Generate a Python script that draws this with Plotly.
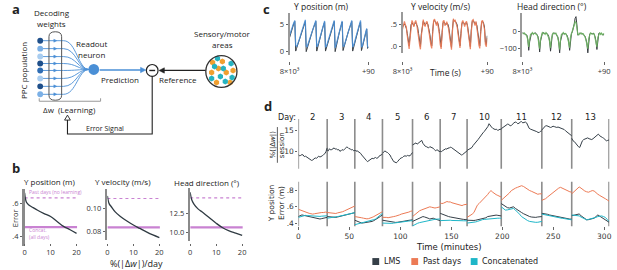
import plotly.graph_objects as go

W, H = 617, 270

# ===================== Panel b data =====================
b_titles = ["Y position (m)", "Y velocity (m/s)", "Head direction (°)"]
b_dw_pct = [0, 0.3, 0.7, 1.5, 3, 5, 7.5, 10, 12.5, 15, 17.5, 20]
b_err_ypos = [0.665, 0.63, 0.607, 0.592, 0.577, 0.558, 0.538, 0.52, 0.49, 0.46, 0.44, 0.418]
b_err_yvel = [0.111, 0.107, 0.104, 0.1015, 0.097, 0.093, 0.089, 0.0855, 0.0825, 0.0795, 0.0768, 0.0745]
b_err_head = [15.3, 14.7, 14.2, 13.7, 13.1, 12.6, 11.9, 11.2, 10.6, 10.2, 9.9, 9.6]
b_err_pastdays = [0.634, 0.1087, 14.57]
b_err_concat = [0.456, 0.0835, 10.66]
b_ytickvals = [[0.4, 0.6], [0.08, 0.10], [10.0, 12.5]]
b_yticktext = [[".4", ".6"], ["0.08", "0.10"], ["10.0", "12.5"]]
b_xtickvals = [0, 10, 20]

# ===================== Panel c data =====================
c_titles = ["Y position (m)", "Y velocity (m/s)", "Head direction (°)"]
c_time_s = list(range(91))
c_xtickvals = [0, 90]
c_xticktext = ["8×10³", "+90"]
c_ypos_true = [2.6, 3.2, 3.8, 4.4, 4.9, 5.3, 5.6, 0.1,
               0.6, 1.1, 1.6, 2.1, 2.6, 3.1, 3.6, 4.1, 4.6, 5.1, 5.6, 0.0,
               0.6, 1.2, 1.7, 2.2, 2.8, 3.3, 3.8, 4.3, 4.8, 5.2, 5.6, 0.1,
               0.8, 1.4, 2.0, 2.7, 3.3, 3.9, 4.5, 5.0, 5.5, 0.1,
               0.7, 1.3, 1.9, 2.5, 3.0, 3.6, 4.1, 4.6, 5.1, 5.6, 0.0,
               0.9, 1.6, 2.3, 3.0, 3.7, 4.4, 5.0, 5.5, 0.2,
               0.7, 1.3, 1.9, 2.5, 3.1, 3.7, 4.2, 4.7, 5.2, 5.6, 0.1,
               0.8, 1.4, 2.1, 2.8, 3.4, 4.0, 4.6, 5.1, 5.5, 0.2,
               0.8, 1.5, 2.2, 2.9, 3.6, 4.2, 0.6, 0.9]
c_ypos_pred = [3.0, 3.4, 3.9, 4.5, 5.0, 5.5, 5.8, 1.2,
               0.9, 1.3, 1.7, 2.3, 2.7, 3.3, 3.9, 4.3, 4.9, 5.4, 5.9, 1.0,
               0.9, 1.4, 1.9, 2.4, 2.9, 3.5, 3.9, 4.4, 5.0, 5.4, 5.8, 0.9,
               1.1, 1.6, 2.2, 2.8, 3.5, 4.0, 4.7, 5.2, 5.7, 0.8,
               1.0, 1.5, 2.1, 2.6, 3.2, 3.7, 4.3, 4.8, 5.3, 5.8, 0.7,
               1.2, 1.8, 2.5, 3.2, 3.9, 4.5, 5.2, 5.7, 1.0,
               1.0, 1.5, 2.1, 2.7, 3.3, 3.8, 4.4, 4.9, 5.4, 5.8, 0.8,
               1.1, 1.6, 2.3, 2.9, 3.6, 4.2, 4.8, 5.3, 5.8, 0.9,
               1.0, 1.7, 2.4, 3.0, 3.7, 4.3, 1.0, 0.7]
c_yvel_true = [0.45, 0.50, 0.52, 0.48, 0.42, 0.30, 0.10, 0.02,
               0.25, 0.50, 0.55, 0.52, 0.48, 0.53, 0.55, 0.50, 0.45, 0.30, 0.12, 0.00,
               0.30, 0.52, 0.58, 0.54, 0.50, 0.52, 0.55, 0.50, 0.42, 0.28, 0.10, 0.02,
               0.35, 0.58, 0.60, 0.55, 0.52, 0.56, 0.50, 0.35, 0.12, 0.00,
               0.32, 0.55, 0.57, 0.52, 0.50, 0.54, 0.52, 0.45, 0.30, 0.10, -0.02,
               0.40, 0.62, 0.60, 0.58, 0.55, 0.50, 0.35, 0.10, 0.02,
               0.30, 0.52, 0.56, 0.55, 0.50, 0.52, 0.55, 0.48, 0.30, 0.10, 0.00,
               0.38, 0.58, 0.60, 0.55, 0.52, 0.55, 0.48, 0.32, 0.10, 0.02,
               0.35, 0.55, 0.58, 0.54, 0.45, 0.10, 0.05, 0.25]
c_yvel_pred = [0.40, 0.55, 0.58, 0.50, 0.45, 0.25, 0.05, -0.05,
               0.20, 0.45, 0.60, 0.55, 0.45, 0.55, 0.60, 0.52, 0.40, 0.22, 0.05, -0.06,
               0.25, 0.55, 0.62, 0.50, 0.46, 0.55, 0.58, 0.48, 0.38, 0.20, 0.04, -0.04,
               0.30, 0.60, 0.63, 0.52, 0.48, 0.58, 0.46, 0.30, 0.05, -0.05,
               0.28, 0.58, 0.60, 0.48, 0.52, 0.57, 0.48, 0.40, 0.22, 0.04, -0.07,
               0.35, 0.64, 0.58, 0.60, 0.52, 0.45, 0.28, 0.05, -0.03,
               0.25, 0.55, 0.60, 0.52, 0.46, 0.55, 0.58, 0.44, 0.25, 0.03, -0.06,
               0.32, 0.60, 0.62, 0.52, 0.48, 0.58, 0.44, 0.26, 0.04, -0.04,
               0.30, 0.58, 0.60, 0.50, 0.40, 0.05, 0.00, 0.20]
c_head_true = [-5, -8, -10, -12, -15, -20, -45, -110,
               -60, -20, -10, -8, -12, -10, -6, -9, -14, -25, -50, -120,
               -55, -18, -8, -5, -10, -12, -7, -9, -15, -28, -55, -115,
               -50, -15, -8, -10, -6, -12, -18, -30, -60, -125,
               -55, -20, -10, -8, -12, -9, -14, -20, -35, -60, -110,
               -40, -10, 0, 20, 45, 80, 90, 40, -20,
               -15, -10, -8, -12, -10, -15, -20, -28, -45, -70, -125,
               -50, -15, -8, -10, -12, -8, -15, -30, -55, -105,
               -40, -10, -8, -12, -10, -15, -20, -12]
c_head_pred = [-8, -12, -6, -15, -18, -25, -50, -90,
               -45, -15, -12, -5, -15, -8, -10, -12, -18, -30, -55, -100,
               -45, -20, -5, -10, -8, -15, -5, -12, -20, -35, -60, -95,
               -40, -18, -5, -12, -10, -8, -22, -35, -65, -105,
               -45, -15, -12, -5, -15, -10, -12, -25, -40, -65, -95,
               -30, -8, 5, 25, 40, 60, 55, 25, -15,
               -18, -8, -12, -8, -14, -12, -22, -30, -50, -75, -100,
               -40, -18, -5, -12, -10, -12, -12, -35, -60, -90,
               -35, -12, -5, -15, -8, -18, -15, -10]
c_yrange = [[-0.55, 7.2], [-0.136, 0.795], [-147, 112]]
c_ytickvals = [[0, 5], [0, 0.5], [-100, 0]]
c_yticktext = [["0", "5"], [".0", ".5"], ["−100", "0"]]

# ===================== Panel d data =====================
d_days = [2, 3, 4, 5, 6, 7, 10, 11, 12, 13]
d_bounds_min = [0, 28.3, 55.4, 82.5, 112, 139.1, 165.5, 199, 238.8, 268.1, 304.7]
d_xtickvals = [0, 50, 100, 150, 200, 250, 300]
d_dw_by_day = [
    [9.3, 9.0, 9.1, 9.3, 9.2, 8.8, 8.9, 8.7, 8.6, 8.3, 8.2, 7.9, 8.0, 8.4, 8.5, 8.4, 8.6, 8.9, 8.7, 8.8, 9.0, 9.3, 9.5, 10.0, 10.9],
    [10.4, 10.2, 10.7, 10.4, 10.5, 10.8, 10.9, 10.6, 10.7, 10.4, 10.5, 10.1, 10.2, 10.5, 10.3, 10.6, 10.8, 11.1, 11.0, 10.7, 10.7, 10.4, 10.5, 10.2, 10.3],
    [10.4, 10.1, 10.2, 10.0, 9.9, 9.6, 9.2, 8.8, 8.4, 8.0, 7.9, 7.6, 7.8, 8.0, 8.1, 8.4, 8.3, 8.5, 8.6, 8.4, 8.5, 8.9, 9.1, 9.3, 9.4],
    [9.6, 10.0, 10.2, 9.9, 9.8, 9.5, 9.2, 8.6, 8.0, 7.6, 7.5, 7.3, 7.6, 8.0, 8.3, 8.5, 8.6, 8.9, 9.0, 8.9, 9.1, 9.0, 9.0, 9.4, 9.8],
    [11.6, 11.8, 11.9, 12.1, 11.8, 12.0, 12.2, 12.5, 12.7, 12.0, 11.5, 11.3, 11.2, 11.0, 10.9, 11.2, 11.1, 10.9, 10.8, 10.5, 10.2, 10.4, 10.4, 10.0, 10.1],
    [10.1, 10.0, 10.2, 10.4, 10.4, 10.7, 10.6, 10.9, 10.8, 11.1, 11.0, 10.8, 10.7, 10.5, 10.4, 10.1, 9.9, 9.6, 9.5, 9.2, 9.3, 9.5, 9.7, 10.0, 10.2],
    [10.3, 10.5, 10.6, 10.9, 11.0, 11.5, 11.8, 12.3, 12.6, 12.9, 13.3, 13.8, 14.2, 14.5, 14.8, 15.2, 15.4, 16.0, 16.7, 16.2, 15.9, 15.6, 15.5, 15.3, 15.4, 15.1, 15.2, 15.4, 15.3],
    [15.5, 15.7, 15.8, 16.1, 16.2, 16.6, 16.5, 16.2, 16.3, 16.7, 16.9, 17.1, 17.0, 16.7, 16.8, 17.1, 17.2, 16.9, 17.0, 17.1, 16.9, 16.2, 15.6, 15.4, 15.3, 15.1, 15.0, 14.9, 14.8, 14.6, 14.6, 14.9, 15.0],
    [15.2, 15.6, 15.9, 16.2, 16.2, 16.0, 16.0, 15.8, 15.9, 16.1, 16.0, 15.8, 15.8, 15.9, 15.8, 15.6, 15.6, 15.4, 15.3, 15.0, 14.8, 14.5, 14.2, 14.0, 13.8],
    [13.2, 12.6, 12.4, 11.9, 11.6, 11.2, 11.0, 11.8, 12.6, 12.9, 13.0, 13.2, 13.3, 13.1, 13.0, 12.9, 13.1, 13.4, 13.6, 13.9, 14.2, 13.8, 13.5, 13.4, 13.2, 12.9, 12.6, 12.7, 12.8],
]
d_past_by_day = [
    [0.57, 0.56, 0.55, 0.545, 0.535, 0.53, 0.52, 0.515, 0.51, 0.515, 0.52, 0.518, 0.525, 0.53, 0.53, 0.535, 0.53],
    [0.53, 0.528, 0.525, 0.52, 0.52, 0.518, 0.525, 0.53, 0.53, 0.54, 0.55, 0.56, 0.57, 0.58, 0.59, 0.60, 0.61],
    [0.48, 0.478, 0.475, 0.47, 0.465, 0.46, 0.455, 0.452, 0.455, 0.46, 0.47, 0.48, 0.49, 0.5, 0.51, 0.525, 0.54],
    [0.47, 0.472, 0.47, 0.466, 0.468, 0.475, 0.48, 0.485, 0.49, 0.5, 0.51, 0.515, 0.52, 0.53, 0.535, 0.545, 0.55],
    [0.48, 0.5, 0.52, 0.535, 0.55, 0.56, 0.57, 0.58, 0.59, 0.60, 0.60, 0.595, 0.59, 0.585, 0.59, 0.6, 0.60],
    [0.65, 0.64, 0.645, 0.655, 0.665, 0.66, 0.66, 0.65, 0.645, 0.635, 0.63, 0.625, 0.62, 0.615, 0.625, 0.63, 0.632],
    [0.47, 0.48, 0.49, 0.51, 0.53, 0.57, 0.62, 0.64, 0.66, 0.68, 0.70, 0.73, 0.75, 0.78, 0.80, 0.78, 0.76, 0.75, 0.74, 0.73, 0.72],
    [0.68, 0.70, 0.72, 0.75, 0.77, 0.80, 0.82, 0.83, 0.84, 0.85, 0.86, 0.85, 0.83, 0.81, 0.80, 0.79, 0.78, 0.77, 0.755, 0.76, 0.76],
    [0.68, 0.69, 0.70, 0.72, 0.74, 0.76, 0.78, 0.79, 0.81, 0.83, 0.84, 0.83, 0.81, 0.80, 0.79, 0.785, 0.78],
    [0.76, 0.78, 0.80, 0.83, 0.845, 0.83, 0.81, 0.795, 0.785, 0.78, 0.79, 0.80, 0.795, 0.77, 0.755, 0.74, 0.73, 0.715, 0.70, 0.685, 0.67],
]
d_lms_by_day = [
    [0.48, 0.49, 0.50, 0.495, 0.49, 0.485, 0.48, 0.47, 0.465, 0.46, 0.455, 0.45, 0.45, 0.455, 0.46, 0.465, 0.47],
    [0.48, 0.478, 0.475, 0.47, 0.468, 0.47, 0.475, 0.48, 0.488, 0.495, 0.50, 0.505, 0.512, 0.515, 0.52, 0.525, 0.528],
    [0.435, 0.425, 0.415, 0.405, 0.40, 0.402, 0.405, 0.408, 0.41, 0.415, 0.42, 0.43, 0.44, 0.455, 0.47, 0.485, 0.50],
    [0.435, 0.43, 0.425, 0.422, 0.42, 0.415, 0.41, 0.408, 0.41, 0.412, 0.416, 0.42, 0.425, 0.43, 0.435, 0.438, 0.44],
    [0.42, 0.43, 0.44, 0.455, 0.47, 0.478, 0.48, 0.475, 0.47, 0.46, 0.45, 0.455, 0.46, 0.45, 0.44, 0.435, 0.43],
    [0.52, 0.51, 0.50, 0.49, 0.485, 0.48, 0.475, 0.47, 0.465, 0.46, 0.455, 0.452, 0.45, 0.448, 0.445, 0.442, 0.44],
    [0.435, 0.432, 0.43, 0.43, 0.432, 0.435, 0.44, 0.445, 0.45, 0.452, 0.455, 0.465, 0.48, 0.485, 0.49, 0.495, 0.50, 0.498, 0.495, 0.49, 0.488],
    [0.64, 0.62, 0.60, 0.59, 0.585, 0.59, 0.60, 0.58, 0.56, 0.545, 0.53, 0.515, 0.50, 0.49, 0.48, 0.474, 0.468, 0.47, 0.475, 0.478, 0.48],
    [0.52, 0.518, 0.515, 0.508, 0.50, 0.495, 0.49, 0.485, 0.48, 0.472, 0.465, 0.462, 0.46, 0.455, 0.45, 0.449, 0.448],
    [0.49, 0.495, 0.50, 0.506, 0.512, 0.49, 0.47, 0.455, 0.44, 0.442, 0.445, 0.452, 0.46, 0.48, 0.50, 0.485, 0.47, 0.455, 0.44, 0.425, 0.41],
]
d_concat_by_day = [
    [0.47, 0.478, 0.485, 0.49, 0.495, 0.492, 0.49, 0.489, 0.488, 0.484, 0.48, 0.481, 0.482, 0.485, 0.488, 0.489, 0.49],
    [0.46, 0.462, 0.465, 0.468, 0.472, 0.476, 0.48, 0.484, 0.488, 0.494, 0.50, 0.506, 0.512, 0.516, 0.52, 0.524, 0.528],
    [0.38, 0.385, 0.39, 0.395, 0.40, 0.405, 0.41, 0.415, 0.42, 0.428, 0.435, 0.442, 0.45, 0.465, 0.48, 0.50, 0.52],
    [0.40, 0.398, 0.395, 0.393, 0.392, 0.396, 0.40, 0.402, 0.405, 0.408, 0.41, 0.414, 0.418, 0.422, 0.425, 0.428, 0.43],
    [0.365, 0.378, 0.39, 0.398, 0.405, 0.41, 0.415, 0.42, 0.425, 0.432, 0.44, 0.442, 0.445, 0.446, 0.448, 0.449, 0.45],
    [0.43, 0.432, 0.435, 0.438, 0.44, 0.438, 0.435, 0.432, 0.43, 0.429, 0.428, 0.429, 0.43, 0.429, 0.428, 0.428, 0.428],
    [0.40, 0.401, 0.402, 0.405, 0.408, 0.414, 0.42, 0.43, 0.44, 0.442, 0.445, 0.448, 0.45, 0.452, 0.455, 0.458, 0.46, 0.46, 0.46, 0.46, 0.46],
    [0.60, 0.58, 0.56, 0.562, 0.565, 0.572, 0.58, 0.56, 0.54, 0.51, 0.48, 0.46, 0.44, 0.43, 0.42, 0.414, 0.408, 0.409, 0.41, 0.415, 0.42],
    [0.51, 0.505, 0.50, 0.494, 0.488, 0.482, 0.475, 0.472, 0.468, 0.464, 0.46, 0.458, 0.455, 0.452, 0.45, 0.445, 0.44],
    [0.50, 0.498, 0.495, 0.49, 0.488, 0.474, 0.46, 0.45, 0.44, 0.445, 0.45, 0.455, 0.46, 0.47, 0.48, 0.484, 0.488, 0.48, 0.47, 0.445, 0.42],
]
d_legend = ["LMS", "Past days", "Concatenated"]

# ===================== styling =====================
ABC_FONT = "Open Sans"
D_FONT = "DejaVu Sans"
DARK = "#353f48"
BLUE = "#4a8fd6"
ORANGE = "#ec7a55"
GREEN = "#6db562"
TEAL = "#1fb6c8"
PURPLE = "#c982d2"
GREY_AX = "#8c8c8c"


def dx(p0, p1):
    return [p0 / W, p1 / W]


def dy(top, bottom):
    return [1 - bottom / H, 1 - top / H]


def day_series(per_day):
    xs, ys = [], []
    for i, vals in enumerate(per_day):
        a, b = d_bounds_min[i], d_bounds_min[i + 1]
        n = len(vals)
        for k, v in enumerate(vals):
            xs.append(a + (b - a) * k / (n - 1))
            ys.append(v)
        xs.append(None)
        ys.append(None)
    return xs, ys


fig = go.Figure()
layout = dict(width=W, height=H, margin=dict(l=0, r=0, t=0, b=0),
              paper_bgcolor="white", plot_bgcolor="rgba(0,0,0,0)", showlegend=False,
              font=dict(family=ABC_FONT, size=8, color="#222"))
ann = []
shapes = []


def ax_name(i, kind):
    return f"{kind}axis" if i == 1 else f"{kind}axis{i}"


def T(text, x, y, size=8, color="#222", xanchor="center", yanchor="middle", angle=0,
      family=ABC_FONT, weight="normal"):
    ann.append(dict(text=text, x=x, y=y, xref="x9", yref="y9", showarrow=False,
                    font=dict(size=size, color=color, family=family, weight=weight),
                    xanchor=xanchor, yanchor=yanchor, textangle=angle))


def S(**kw):
    d = dict(xref="x9", yref="y9")
    d.update(kw)
    shapes.append(d)


# ---------------- panel b ----------------
b_curves = [b_err_ypos, b_err_yvel, b_err_head]
b_xdom = [(15, 69.4), (100, 154.4), (185, 239.4)]
b_ydom = [(190, 248), (190, 242), (189, 243)]
b_yrange = [[0.34, 0.69], [0.0722, 0.1174], [8.82, 15.92]]
b_title_pos = [(41.5, 183), (116, 183), (202, 184)]
for i in range(3):
    n = i + 1
    xa, ya = f"x{n}" if n > 1 else "x", f"y{n}" if n > 1 else "y"
    fig.add_trace(go.Scatter(x=[0, 20.2], y=[b_err_pastdays[i]] * 2, mode="lines",
                             line=dict(color=PURPLE, width=1.2, dash="dot"), xaxis=xa, yaxis=ya))
    fig.add_trace(go.Scatter(x=[0, 20.2], y=[b_err_concat[i]] * 2, mode="lines",
                             line=dict(color=PURPLE, width=2.2), xaxis=xa, yaxis=ya))
    fig.add_trace(go.Scatter(x=b_dw_pct, y=b_curves[i], mode="lines", line_shape="spline",
                             line=dict(color="#2f3a42", width=1.3), xaxis=xa, yaxis=ya))
    layout[ax_name(n, "x")] = dict(domain=dx(*b_xdom[i]), range=[0, 20.4], anchor="free",
                                   position=1 - 245 / H, showline=False, showgrid=False, zeroline=False,
                                   ticks="outside", ticklen=2, tickcolor="#666", tickvals=b_xtickvals,
                                   tickfont=dict(size=7.5, color="#333"), fixedrange=True)
    layout[ax_name(n, "y")] = dict(domain=dy(*b_ydom[i]), range=b_yrange[i], anchor=xa,
                                   showline=True, linecolor="#8a8a8a", linewidth=2.5, showgrid=False,
                                   zeroline=False, ticks="outside", ticklen=2, tickcolor="#666",
                                   tickvals=b_ytickvals[i], ticktext=b_yticktext[i],
                                   tickfont=dict(size=7.5, color="#333"), fixedrange=True)
    T(b_titles[i], b_title_pos[i][0], b_title_pos[i][1], size=8)

# ---------------- panel c ----------------
c_series = [(c_ypos_true, c_ypos_pred, BLUE), (c_yvel_true, c_yvel_pred, ORANGE),
            (c_head_true, c_head_pred, GREEN)]
c_xdom = [(287, 368), (403, 490), (526, 610)]
c_ydom = [(13, 55), (12, 53), (13, 57)]
c_title_x = [320, 442, 556]
for i in range(3):
    n = i + 4
    xa, ya = f"x{n}", f"y{n}"
    tr, pr, col = c_series[i]
    fig.add_trace(go.Scatter(x=c_time_s, y=tr, mode="lines", line=dict(color="#3a3f44", width=1),
                             xaxis=xa, yaxis=ya))
    fig.add_trace(go.Scatter(x=c_time_s, y=pr, mode="lines", line=dict(color=col, width=1.2),
                             opacity=0.9, xaxis=xa, yaxis=ya))
    layout[ax_name(n, "x")] = dict(domain=dx(*c_xdom[i]), range=[0, 90], anchor="free",
                                   position=1 - 61 / H, showline=False, showgrid=False, zeroline=False,
                                   ticks="outside", ticklen=3, tickcolor="#666", tickvals=c_xtickvals,
                                   ticktext=c_xticktext, tickfont=dict(size=7.5, color="#333"),
                                   fixedrange=True)
    layout[ax_name(n, "y")] = dict(domain=dy(*c_ydom[i]), range=c_yrange[i], anchor=xa,
                                   showline=True, linecolor="#9a9a9a", linewidth=2, showgrid=False,
                                   zeroline=False, ticks="outside", ticklen=2, tickcolor="#666",
                                   tickvals=c_ytickvals[i], ticktext=c_yticktext[i],
                                   tickfont=dict(size=7.5, color="#333"), fixedrange=True)
    T(c_titles[i], c_title_x[i], 7, size=8.5)
T("Time (s)", 447, 73, size=8.5)

# ---------------- panel d ----------------
xs, ys = day_series(d_dw_by_day)
fig.add_trace(go.Scatter(x=xs, y=ys, mode="lines", line=dict(color=DARK, width=1), xaxis="x7", yaxis="y7"))
for data, col in [(d_past_by_day, ORANGE), (d_lms_by_day, DARK), (d_concat_by_day, TEAL)]:
    xs, ys = day_series(data)
    fig.add_trace(go.Scatter(x=xs, y=ys, mode="lines", line=dict(color=col, width=1),
                             xaxis="x8", yaxis="y8"))
d_xd = dx(296, 615.3)
layout["xaxis7"] = dict(domain=d_xd, range=[0, 305], anchor="y7", visible=False, fixedrange=True)
layout["yaxis7"] = dict(domain=dy(120, 170), range=[5.9, 17.8], anchor="x7", showline=False,
                        showgrid=False, zeroline=False, ticks="outside", ticklen=2, tickcolor="#666",
                        tickvals=[10, 15], tickfont=dict(size=7.5, family=D_FONT, color="#333"),
                        fixedrange=True)
layout["xaxis8"] = dict(domain=d_xd, range=[0, 305], anchor="y8", showline=False, showgrid=False,
                        zeroline=False, ticks="outside", ticklen=3, tickcolor="#666",
                        tickvals=d_xtickvals, tickfont=dict(size=7.5, family=D_FONT, color="#333"),
                        fixedrange=True)
layout["yaxis8"] = dict(domain=dy(183, 228), range=[0.36, 0.91], anchor="x8", showline=False,
                        showgrid=False, zeroline=False, ticks="outside", ticklen=2, tickcolor="#666",
                        tickvals=[0.4, 0.6, 0.8], ticktext=[".4", ".6", ".8"],
                        tickfont=dict(size=7.5, family=D_FONT, color="#333"), fixedrange=True)
for b in d_bounds_min:
    for xa, ya in [("x7", "y7"), ("x8", "y8")]:
        shapes.append(dict(type="line", xref=xa, yref=f"{ya} domain", x0=b, x1=b, y0=0, y1=1,
                           line=dict(color=GREY_AX, width=1.6), layer="below"))
for i, day in enumerate(d_days):
    mid = (d_bounds_min[i] + d_bounds_min[i + 1]) / 2
    ann.append(dict(text=str(day), x=mid, y=1 - 118 / H, xref="x7", yref="paper", showarrow=False,
                    font=dict(size=8.5, family=D_FONT, color="#222"), xanchor="center", yanchor="middle"))
T("Day:", 284, 118, size=8, family=D_FONT)
T("%(|Δ<i>w</i>|)", 269.5, 146, size=7, family=D_FONT, angle=-90)
T("session", 279.5, 146, size=7, family=D_FONT, angle=-90)
S(type="line", x0=274.5, x1=274.5, y0=128, y1=164, line=dict(color="#333", width=0.8))
T("Y position<br>Error (m)", 274, 205, size=7.5, family=D_FONT, angle=-90)
T("Time (minutes)", 451, 249, size=8.5, family=D_FONT)
leg_x = [372, 412, 473]
leg_cols = [DARK, ORANGE, TEAL]
for lx, lab, col in zip(leg_x, d_legend, leg_cols):
    S(type="rect", x0=lx, x1=lx + 7, y0=260, y1=267, fillcolor=col, line=dict(width=0))
    T(lab, lx + 10, 263.5, size=8, family=D_FONT, xanchor="left")

# ---------------- panel a (schematic) ----------------
NEURON_Y = [41, 49, 57, 64, 71, 79, 87, 95]
NEURON_C = ["#1f4f8a", "#7bb0e6", "#a9cdf0", "#1f4f8a", "#2f6db3", "#a9cdf0", "#1f4f8a", "#7bb0e6"]
RO = (86, 70)
for y, c in zip(NEURON_Y, NEURON_C):
    S(type="path", path=f"M 33,{y} L 55,{y} C 68,{y} 70,{RO[1]} 81,{RO[1]}",
      line=dict(color=BLUE, width=0.9))
    S(type="path", path=f"M 45,{y-1.5} L 48,{y} L 45,{y+1.5} Z", fillcolor=BLUE,
      line=dict(color=BLUE, width=0.5))
    S(type="circle", x0=28, x1=34, y0=y - 3, y1=y + 3, fillcolor=c, line=dict(width=0))
S(type="path", path="M 40,37 Q 40,32 46.5,32 Q 53,32 53,37 L 53,96 Q 53,101 46.5,101 Q 40,101 40,96 Z",
  line=dict(color="#555", width=1))
S(type="circle", x0=80.5, x1=91.5, y0=64.5, y1=75.5, fillcolor=BLUE, line=dict(width=0))
# prediction arrow
S(type="line", x0=92, x1=135, y0=70.5, y1=70.5, line=dict(color=BLUE, width=1.3))
S(type="path", path="M 134,67.8 L 139.5,70.5 L 134,73.2 Z", fillcolor=BLUE, line=dict(color=BLUE, width=0.5))
# reference arrow
S(type="line", x0=201, x1=157, y0=71, y1=71, line=dict(color="#222", width=1.2))
S(type="path", path="M 158.5,68.3 L 153,71 L 158.5,73.7 Z", fillcolor="#222", line=dict(color="#222", width=0.5))
# comparator
S(type="circle", x0=140, x1=152, y0=65, y1=77, fillcolor="white", line=dict(color="#222", width=1.2))
S(type="line", x0=143, x1=149, y0=71, y1=71, line=dict(color="#222", width=1.4))
# error signal loop
S(type="path", path="M 146,77 L 146,135 L 59,135 L 59,121", line=dict(color="#222", width=1.1))
S(type="path", path="M 56,121 L 62,121 L 59,116 Z", fillcolor="white", line=dict(color="#222", width=0.9))
# learning bracket
S(type="path", path="M 30,99 L 30,102 L 93,102 L 93,99", line=dict(color="#999", width=1))
# sensory/motor areas
S(type="circle", x0=201, x1=233, y0=56, y1=88, fillcolor="rgba(0,0,0,0)",
  line=dict(color="#333", width=1.3))
hex_orange = [(208, 63), (218, 62), (207, 73), (222, 73), (229, 71), (212, 83), (226, 83), (214, 69)]
hex_teal = [(213, 59), (227, 64), (210, 67), (219, 69), (216, 77), (221, 82), (228, 78), (207, 79)]
fig.add_trace(go.Scatter(x=[p[0] for p in hex_orange], y=[p[1] for p in hex_orange], mode="markers",
                         marker=dict(symbol="hexagon", size=6, color="#f0a030"), xaxis="x9", yaxis="y9"))
fig.add_trace(go.Scatter(x=[p[0] for p in hex_teal], y=[p[1] for p in hex_teal], mode="markers",
                         marker=dict(symbol="hexagon", size=6, color="#26b3c0"), xaxis="x9", yaxis="y9"))
layout["xaxis9"] = dict(domain=[0, 1], range=[0, W], visible=False, fixedrange=True, anchor="y9")
layout["yaxis9"] = dict(domain=[0, 1], range=[H, 0], visible=False, fixedrange=True, anchor="x9")

T("Decoding", 43, 13, size=8)
T("weights", 43, 24, size=8)
T("PPC population", 14, 71, size=8, angle=-90)
T("Readout", 84, 44, size=8)
T("neuron", 84, 55, size=8)
T("Prediction", 113, 80, size=8)
T("Reference", 172, 80, size=8)
T("Sensory/motor", 218, 34, size=8)
T("areas", 218, 45, size=8)
T("Δw  (Learning)", 61, 110, size=8)
T("Error Signal", 98, 129, size=7)

# panel b extra text
T("Error", 6, 220, size=7.5, angle=-90)
T("Past days (no learning)", 17, 193, size=5, color=PURPLE, xanchor="left")
T("Concat.", 17, 232, size=5, color=PURPLE, xanchor="left")
T("(all days)", 17, 239, size=5, color=PURPLE, xanchor="left")
T("%(|Δ<i>w</i>|)/day", 130, 265, size=9)

# panel letters
T("a", 6, 9, size=13, weight="bold")
T("b", 6, 169, size=13, weight="bold")
T("c", 263, 9, size=13, weight="bold")
T("d", 265, 107, size=13, weight="bold")

layout["annotations"] = ann
layout["shapes"] = shapes
fig.update_layout(**layout)
fig.write_html("out.html", config={"displayModeBar": False, "staticPlot": True})

# remove the browser's default page margin so the figure sits at the window's top-left corner
with open("out.html", "r", encoding="utf-8") as f:
    html = f.read()
html = html.replace("<head>", "<head><style>html,body{margin:0;padding:0;overflow:hidden;}</style>", 1)
with open("out.html", "w", encoding="utf-8") as f:
    f.write(html)
